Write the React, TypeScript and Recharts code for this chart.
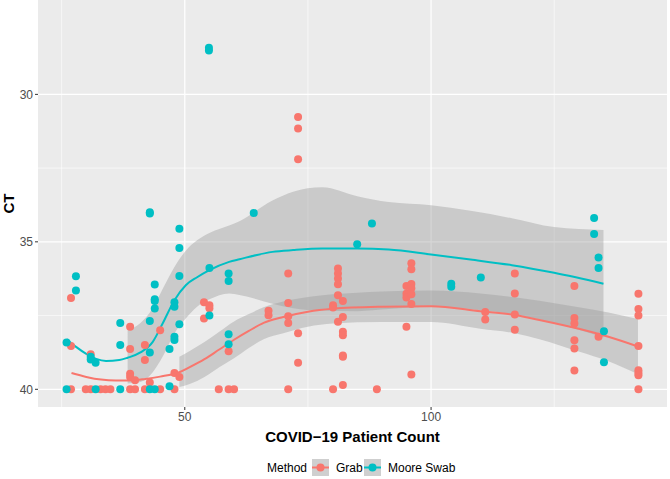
import React from 'react';
import { ComposedChart, Scatter, Area, Line, XAxis, YAxis, CartesianGrid } from 'recharts';

// raw points: [patient count, CT]
const grabPoints: [number, number][] = [
  [26.9, 36.9], [26.9, 38.53], [26.9, 40], [29.9, 40], [30.9, 38.81], [30.9, 40],
  [32.9, 40], [33.9, 40], [34.9, 40],
  [38.9, 37.88], [38.9, 38.63], [38.9, 39.47], [38.9, 39.58], [38.9, 40],
  [39.9, 39.69], [39.9, 40], [41.9, 38.5], [41.9, 39.01], [41.9, 40], [42.9, 39.77],
  [45.0, 38.0], [45.0, 40], [47.9, 39.45], [47.9, 40], [48.9, 39.58],
  [53.9, 37.05], [55.0, 37.15], [55.0, 37.25], [53.9, 37.6],
  [56.9, 40], [58.9, 38.71], [58.9, 40], [60.0, 40],
  [67.0, 37.34], [67.0, 37.49],
  [71.0, 36.07], [71.0, 37.07], [71.0, 37.52], [71.0, 37.75], [71.0, 40],
  [73.0, 30.77], [73.0, 31.16], [73.0, 32.2], [73.0, 38.1], [73.0, 39.1],
  [80.1, 37.15], [80.1, 37.23], [80.1, 40],
  [81.1, 35.9], [81.1, 36.07], [81.1, 36.24], [81.1, 36.44], [81.1, 36.81], [81.1, 37.71],
  [82.1, 37.01], [82.1, 37.55], [82.1, 38.05], [82.1, 38.17], [82.1, 38.85], [82.1, 38.9], [82.1, 39.85],
  [89.0, 40],
  [95.0, 36.5], [95.0, 36.76], [95.0, 36.89], [95.0, 37.88],
  [96.0, 35.73], [96.0, 35.93], [96.0, 36.43], [96.0, 36.57], [96.0, 36.78], [96.0, 37.11], [96.0, 39.5],
  [111.0, 37.38], [111.0, 37.63],
  [117.0, 36.07], [117.0, 36.75], [117.0, 37.46], [117.0, 37.98],
  [129.1, 36.5], [129.1, 37.58], [129.1, 37.77], [129.1, 38.34], [129.1, 38.62], [129.1, 39.36],
  [134.0, 38.22],
  [142.1, 36.76], [142.1, 37.28], [142.1, 37.5], [142.1, 38.53], [142.1, 39.35], [142.1, 39.45],
  [142.1, 39.52], [142.1, 40],
];

const mooreSwabPoints: [number, number][] = [
  [26.0, 38.41], [26.0, 40], [27.9, 36.17], [27.9, 36.65],
  [30.9, 38.9], [30.9, 38.99], [31.9, 39.1], [31.9, 40],
  [36.9, 37.75], [36.9, 38.5], [36.9, 40],
  [42.9, 34.0], [42.9, 34.04], [42.9, 37.68], [42.9, 38.75], [42.9, 40],
  [43.9, 36.45], [43.9, 36.95], [43.9, 37.01], [43.9, 37.26], [43.9, 40],
  [46.9, 38.63], [46.9, 39.9],
  [47.9, 37.05], [47.9, 37.2], [47.9, 38.22], [47.9, 38.33],
  [48.9, 34.56], [48.9, 35.21], [48.9, 36.16], [48.9, 37.79],
  [54.9, 28.42], [54.9, 28.51], [55.0, 35.89], [55.0, 37.5],
  [58.9, 36.07], [58.9, 36.33], [58.9, 38.13], [58.9, 38.47],
  [64.0, 34.02], [85.0, 35.08], [88.0, 34.38],
  [104.1, 36.42], [104.1, 36.52], [110.1, 36.21],
  [133.1, 34.19], [133.1, 34.73], [134.0, 35.53], [134.0, 35.89],
  [135.1, 38.03], [135.1, 39.08],
];

// loess fits and confidence band (null where the band was cut off)
const grabFitX = [27, 30, 33, 36, 39, 42, 45, 48.9, 51, 54, 57, 60, 63, 66, 70, 75, 80, 90, 100, 110, 117, 122, 130, 136, 142];
const grabFitCt = [39.45, 39.58, 39.67, 39.7, 39.7, 39.65, 39.57, 39.42, 39.25, 38.98, 38.65, 38.32, 38.02, 37.75, 37.55, 37.37, 37.27, 37.2, 37.18, 37.35, 37.48, 37.65, 37.95, 38.22, 38.55];
const grabLo = [null, null, null, null, null, null, null, 38.9, 38.7, 38.4, 38.05, 37.7, 37.45, 37.22, 37.02, 36.87, 36.78, 36.68, 36.65, 36.75, 36.88, 37.0, 37.22, 37.4, 37.62];
const grabHi = [null, null, null, null, null, null, null, 39.92, 39.82, 39.58, 39.25, 38.95, 38.6, 38.3, 38.1, 37.88, 37.77, 37.72, 37.72, 37.95, 38.1, 38.3, 38.72, 39.05, 39.49];

const mooreFitX = [26, 28, 30, 32, 34, 36.7, 38.4, 41, 43.5, 45.5, 47.9, 50.2, 52.5, 55, 59, 61.1, 67.8, 72, 77.9, 85, 91.4, 100, 108, 116.4, 125, 135];
const mooreFitCt = [38.3, 38.57, 38.8, 38.97, 39.04, 39.01, 38.93, 38.75, 38.39, 37.77, 36.98, 36.47, 36.2, 35.96, 35.68, 35.59, 35.34, 35.28, 35.23, 35.23, 35.26, 35.43, 35.6, 35.79, 36.05, 36.42];
const mooreLo = [null, null, null, null, null, null, 38.0, 37.75, 37.25, 36.6, 35.85, 35.3, 34.95, 34.7, 34.45, 34.3, 33.6, 33.3, 33.15, 33.45, 33.65, 33.76, 33.95, 34.2, 34.5, 34.6];
const mooreHi = [null, null, null, null, null, null, 39.8, 39.75, 39.42, 38.9, 38.1, 37.6, 37.2, 36.95, 36.75, 36.8, 37.1, 37.25, 37.33, 37.35, 37.28, 37.2, 37.28, 37.45, 37.75, 38.24];

const xTicks = [50, 100];
const yTicks = [30, 35, 40];
const xMinor = [25, 75, 125];
const yMinor = [32.5, 37.5];

const RED = '#F8766D';
const TEAL = '#00BFC4';
const FONT = '"Liberation Sans", Arial, Helvetica, sans-serif';

const toPoints = (pts: [number, number][]) => pts.map(([x, ct]) => ({ x, ct }));
const toFit = (xs: number[], ct: number[], lo: (number | null)[], hi: (number | null)[]) =>
  xs.map((x, i) => ({
    x,
    ct: ct[i],
    band: lo[i] == null || hi[i] == null ? null : [lo[i], hi[i]],
  }));

const grabData = toPoints(grabPoints);
const mooreData = toPoints(mooreSwabPoints);
const grabFit = toFit(grabFitX, grabFitCt, grabLo, grabHi);
const mooreFit = toFit(mooreFitX, mooreFitCt, mooreLo, mooreHi);

const dot = (color: string) => (props: any) => (
  <circle cx={props.cx} cy={props.cy} r={4} fill={color} />
);

const LegendKey = ({ color }: { color: string }) => (
  <svg width={17} height={17} style={{ display: 'block' }}>
    <rect x={0} y={0} width={17} height={17} fill="#CFCFCF" />
    <line x1={0} y1={8.5} x2={17} y2={8.5} stroke={color} strokeWidth={2} />
    <circle cx={8.5} cy={8.5} r={4} fill={color} />
  </svg>
);

export default function App() {
  return (
    <div style={{ position: 'absolute', left: 0, top: 0, width: 670, height: 479, background: '#fff', fontFamily: FONT }}>
      <ComposedChart width={670} height={479} margin={{ top: 0, right: 3, left: 0, bottom: 0 }}>
        <CartesianGrid
          fill="#EBEBEB"
          fillOpacity={1}
          stroke="#FFFFFF"
          strokeWidth={0.6}
          horizontalValues={yMinor}
          verticalValues={xMinor}
        />
        <CartesianGrid
          stroke="#FFFFFF"
          strokeWidth={1.2}
          horizontalValues={yTicks}
          verticalValues={xTicks}
        />
        <XAxis
          type="number"
          dataKey="x"
          domain={[20.2, 147.9]}
          ticks={xTicks}
          allowDataOverflow
          height={72}
          axisLine={false}
          tickSize={3}
          tickMargin={2}
          tickLine={{ stroke: '#333333' }}
          tick={{ fontSize: 12, fill: '#4D4D4D', fontFamily: FONT }}
          label={(props: any) => {
            const vb = props.viewBox;
            return (
              <text x={vb.x + vb.width / 2} y={442} textAnchor="middle" fontSize={15} fontWeight="bold" fill="#000" fontFamily={FONT}>
                COVID−19 Patient Count
              </text>
            );
          }}
        />
        <YAxis
          type="number"
          dataKey="ct"
          domain={[26.8, 40.6]}
          reversed
          ticks={yTicks}
          allowDataOverflow
          width={38}
          axisLine={false}
          tickSize={3}
          tickMargin={2}
          tickLine={{ stroke: '#333333' }}
          tick={{ fontSize: 12, fill: '#4D4D4D', fontFamily: FONT }}
          label={(props: any) => {
            const vb = props.viewBox;
            const cy = vb.y + vb.height / 2;
            return (
              <text x={13.5} y={cy} transform={`rotate(-90, 13.5, ${cy})`} textAnchor="middle" fontSize={15} fontWeight="bold" fill="#000" fontFamily={FONT}>
                CT
              </text>
            );
          }}
        />
        <Scatter name="Grab" data={grabData} dataKey="ct" shape={dot(RED)} isAnimationActive={false} />
        <Scatter name="Moore Swab" data={mooreData} dataKey="ct" shape={dot(TEAL)} isAnimationActive={false} />
        <Area data={grabFit} dataKey="band" type="monotone" fill="#999999" fillOpacity={0.4} stroke="none" isAnimationActive={false} />
        <Area data={mooreFit} dataKey="band" type="monotone" fill="#999999" fillOpacity={0.4} stroke="none" isAnimationActive={false} />
        <Line data={grabFit} dataKey="ct" type="monotone" stroke={RED} strokeWidth={2} dot={false} isAnimationActive={false} />
        <Line data={mooreFit} dataKey="ct" type="monotone" stroke={TEAL} strokeWidth={2} dot={false} isAnimationActive={false} />
      </ComposedChart>
      <div style={{ position: 'absolute', left: 267, top: 460, fontSize: 12, lineHeight: '17px', color: '#000' }}>Method</div>
      <div style={{ position: 'absolute', left: 312, top: 459 }}><LegendKey color={RED} /></div>
      <div style={{ position: 'absolute', left: 336, top: 460, fontSize: 12, lineHeight: '17px', color: '#000' }}>Grab</div>
      <div style={{ position: 'absolute', left: 364, top: 459 }}><LegendKey color={TEAL} /></div>
      <div style={{ position: 'absolute', left: 388, top: 460, fontSize: 12, lineHeight: '17px', color: '#000' }}>Moore Swab</div>
    </div>
  );
}
